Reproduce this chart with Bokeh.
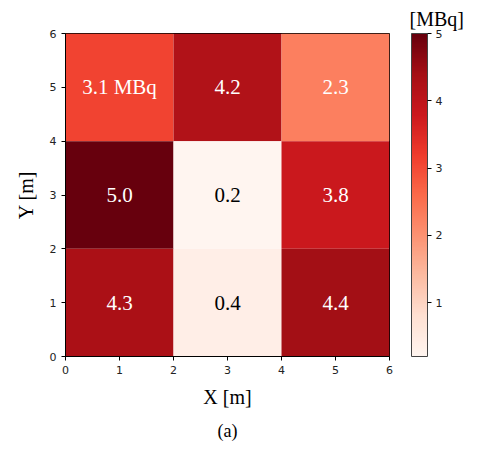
from bokeh.plotting import figure
from bokeh.models import ColumnDataSource, ColorBar, LinearColorMapper, FixedTicker, Title, Range1d
from bokeh.palettes import Reds256
from bokeh.embed import file_html
from bokeh.resources import INLINE
from bokeh.core.properties import value

# data
x_centers = [1, 3, 5, 1, 3, 5, 1, 3, 5]
y_centers = [5, 5, 5, 3, 3, 3, 1, 1, 1]
activity = [3.1, 4.2, 2.3, 5.0, 0.2, 3.8, 4.3, 0.4, 4.4]
cell_labels = ["3.1 MBq", "4.2", "2.3", "5.0", "0.2", "3.8", "4.3", "0.4", "4.4"]
axis_ticks = [0, 1, 2, 3, 4, 5, 6]
cbar_ticks = [1, 2, 3, 4, 5]
cmin, cmax = 0.2, 5.0

text_colors = ["black" if v < 1 else "white" for v in activity]
src = ColumnDataSource(dict(x=x_centers, y=y_centers, v=activity, lab=cell_labels, tc=text_colors))

mapper = LinearColorMapper(palette=list(reversed(Reds256)), low=cmin, high=cmax)

p = figure(frame_width=324, frame_height=323, output_backend="svg", toolbar_location=None,
           x_range=Range1d(0, 6), y_range=Range1d(0, 6),
           min_border_left=65, min_border_top=33, min_border_right=90, min_border_bottom=10)
p.rect(x="x", y="y", width=2, height=2, source=src,
       fill_color={"field": "v", "transform": mapper}, line_color=None)
p.text(x="x", y="y", text="lab", source=src, text_color="tc",
       text_align="center", text_baseline="middle",
       text_font=value("Liberation Serif"), text_font_size="21px")

p.grid.visible = False
p.outline_line_color = "black"
for ax in (p.xaxis[0], p.yaxis[0]):
    ax.ticker = FixedTicker(ticks=axis_ticks)
    ax.minor_tick_line_color = None
    ax.major_tick_in = 0
    ax.major_tick_out = 4
    ax.major_label_text_font = "DejaVu Sans"
    ax.major_label_text_font_size = "11px"
    ax.major_label_text_color = "#222222"
    ax.axis_label_text_font = "Liberation Serif"
    ax.axis_label_text_font_size = "20px"
    ax.axis_label_text_font_style = "normal"
    ax.axis_label_text_color = "black"
    ax.axis_line_color = "black"
    ax.major_tick_line_color = "black"
p.xaxis.axis_label = "X [m]"
p.yaxis.axis_label = "Y [m]"
p.xaxis.axis_label_standoff = 9
p.yaxis.axis_label_standoff = 10
p.yaxis.major_label_orientation = "horizontal"

cb = ColorBar(color_mapper=mapper, ticker=FixedTicker(ticks=cbar_ticks), width=16, height=323,
              location=(346, 0), padding=0, margin=0, bar_line_color="#444444", bar_line_width=1,
              major_tick_in=0, major_tick_out=4, major_tick_line_color="black",
              major_label_text_font="DejaVu Sans", major_label_text_font_size="11px",
              major_label_text_color="#222222", label_standoff=4,
              background_fill_color=None)
p.add_layout(cb, "center")

p.add_layout(Title(text="[MBq]", align="left", offset=344, text_font="Liberation Serif",
                   text_color="black", text_font_size="20px", text_font_style="normal",
                   standoff=8), "above")
p.add_layout(Title(text="(a)", align="center", text_font="Liberation Serif", text_color="black",
                   text_font_size="18px", text_font_style="normal", standoff=17), "below")

open("out.html", "w").write(file_html(p, INLINE))
